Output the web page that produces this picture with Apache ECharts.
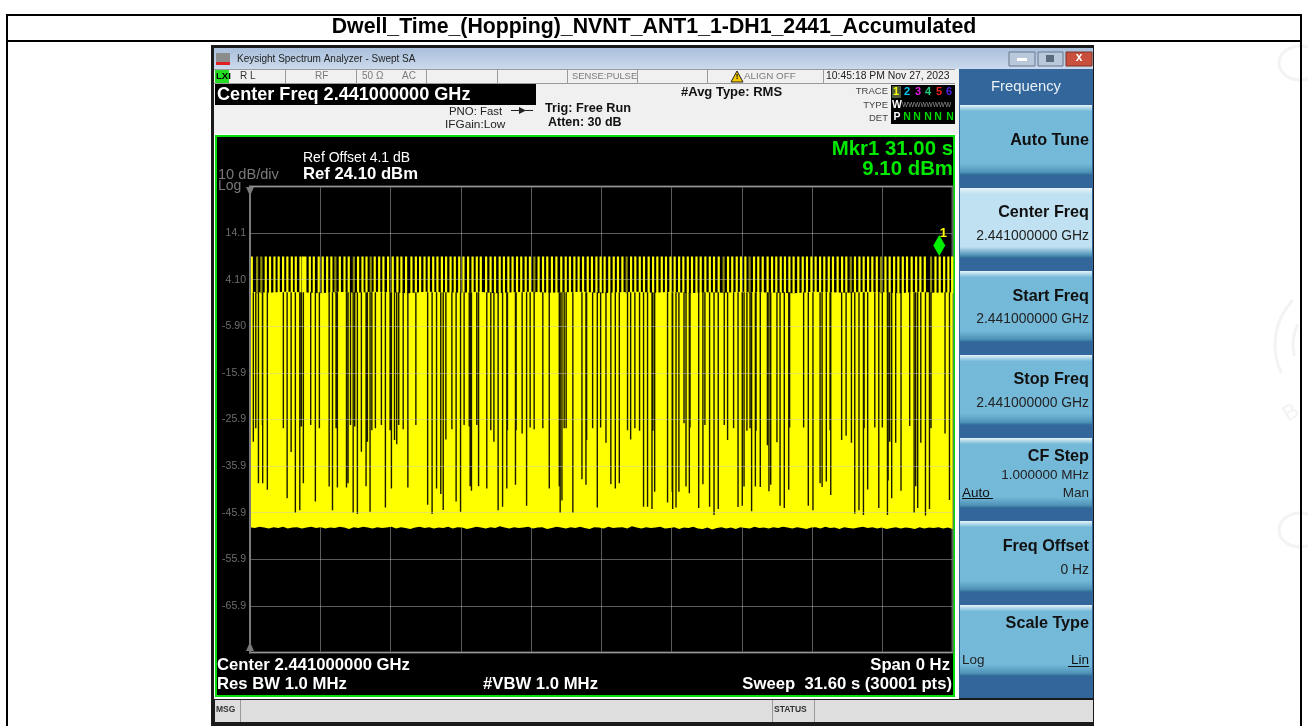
<!DOCTYPE html>
<html lang="en">
<head>
    <meta charset="utf-8">
    <title>Dwell_Time_(Hopping)_NVNT_ANT1_1-DH1_2441_Accumulated</title>
    <script src="https://cdn.jsdelivr.net/npm/echarts@6/dist/echarts.min.js"></script>
    <style>
        html, body { margin: 0; padding: 0; background: #fff; }
        #main { width: 1308px; height: 726px; }
    </style>
</head>
<body>
<div id="main"></div>
<script>
    // y axis (dBm) and x axis (s)
    var refLevel = 24.1;
    var bottomLevel = -75.9;
    var sweepTime = 31.6;
    var yTickLabels = ['14.1', '4.10', '-5.90', '-15.9', '-25.9', '-35.9', '-45.9', '-55.9', '-65.9'];

    var peakLevel = 9.1;
    var markerPoint = [31.0, 9.1];

    // bursts that reach the peak level, times in s
    var teethTimes = [0.08, 0.71, 0.90, 1.10, 1.29, 1.49, 1.68, 1.88, 2.06, 2.27, 2.39, 2.49, 2.69, 2.87, 3.09, 3.27, 3.47, 3.66, 4.04, 4.25, 4.44, 4.86, 5.06, 5.24, 5.61, 5.81, 6.00, 6.21, 6.42, 6.63, 6.81, 7.02, 7.26, 7.46, 7.65, 7.85, 8.04, 8.24, 8.43, 8.63, 8.82, 9.02, 9.21, 9.41, 9.60, 9.81, 10.01, 10.20, 10.38, 10.62, 10.82, 11.02, 11.23, 11.42, 11.62, 11.81, 12.01, 12.20, 12.40, 12.59, 12.98, 13.18, 13.37, 13.58, 13.78, 14.00, 14.20, 14.39, 14.59, 14.78, 14.98, 15.19, 15.38, 15.58, 15.77, 15.95, 16.16, 16.36, 16.55, 16.75, 17.14, 17.33, 17.53, 17.72, 17.93, 18.13, 18.32, 18.52, 18.71, 18.91, 19.10, 19.30, 19.49, 19.69, 19.88, 20.08, 20.27, 20.48, 20.68, 20.87, 21.08, 21.50, 21.69, 21.89, 22.08, 22.28, 22.67, 22.86, 23.06, 23.28, 23.48, 23.67, 23.87, 24.06, 24.26, 24.45, 24.66, 24.86, 25.05, 25.25, 25.44, 25.64, 25.83, 26.03, 26.22, 26.43, 26.63, 26.82, 27.21, 27.41, 27.60, 27.80, 27.99, 28.19, 28.58, 28.77, 28.97, 29.16, 29.36, 29.55, 29.76, 29.96, 30.15, 30.35, 30.83, 31.02, 31.22, 31.41, 31.58];
    // same bursts, the ones that look dim on the screen
    var dimTeethTimes = [0.32, 0.51, 3.84, 4.67, 5.43, 12.79, 16.94, 21.30, 22.47, 27.02, 28.38, 30.63];

    // top of the solid band and noise floor, evenly spread over the sweep
    var plateauLevels = [1.5, 1.3, 1.5, 1.4, 1.2, 1.5, 1.3, 1.5, 1.4, 1.2, 1.5, 1.4, 1.3, 1.5, 1.2, 1.4, 1.5, 1.3, 1.4, 1.5, 1.2, 1.4, 1.5, 1.3, 1.5, 1.2, 1.4, 1.3, 1.5, 1.4, 1.3, 1.2, 1.5, 1.4, 1.3, 1.5, 1.4, 1.2, 1.5, 1.3, 1.4];
    var floorLevels = [-49.0, -49.2, -48.9, -49.1, -49.3, -49.0, -49.2, -48.9, -49.3, -49.1, -49.0, -49.3, -49.1, -48.9, -49.2, -49.0, -49.3, -49.1, -49.2, -48.9, -49.1, -49.4, -49.0, -49.2, -48.9, -49.1, -49.3, -49.0, -49.2, -49.1, -48.9, -49.3, -49.0, -49.2, -49.4, -49.1, -48.9, -49.2, -49.0, -49.3, -49.1, -49.2, -48.9, -49.3, -49.0, -49.1, -49.4, -49.2, -48.9, -49.1, -49.3, -49.0, -49.2, -48.8, -49.1, -49.3, -49.0, -49.2, -49.1, -48.9, -49.3, -49.1, -49.0, -49.4, -49.2, -48.9, -49.1, -49.3, -49.0, -49.2, -48.9, -49.2, -49.4, -49.0, -49.1, -49.3, -48.9, -49.2, -49.1, -49.0, -49.3, -48.8, -49.1, -49.3, -49.0, -49.2, -49.1, -48.9, -49.3, -49.2, -49.0, -49.4, -49.1, -49.2, -48.9, -49.3, -49.4, -49.1, -49.5, -49.2, -49.0, -49.3, -49.1, -49.4, -49.0, -49.2, -49.3, -48.9, -49.2, -49.1, -49.3, -49.0, -49.2, -48.9, -49.1, -49.3, -49.0, -49.2, -49.4, -49.1, -49.0, -49.3, -48.9, -49.2, -49.1, -49.4, -49.0, -49.2, -49.3, -49.1, -48.9, -49.2, -49.0, -49.3, -49.1, -49.4, -49.2, -49.0, -49.3, -49.1, -49.2, -49.4, -49.0, -49.3, -49.1, -49.2, -49.0, -49.3, -49.1, -49.4];

    // gaps between hops: time (s) and how deep the gap reaches (dBm)
    var dipTimes = [0.15, 0.26, 0.38, 0.56, 0.57, 0.78, 1.50, 1.67, 1.85, 2.04, 2.24, 2.31, 2.40, 2.73, 2.94, 3.12, 3.56, 3.71, 3.87, 3.93, 4.34, 4.41, 4.52, 4.64, 4.71, 4.83, 5.01, 5.22, 5.28, 5.40, 5.48, 5.64, 5.91, 6.09, 6.30, 6.36, 6.50, 6.60, 6.69, 6.89, 7.10, 7.46, 7.99, 8.19, 8.39, 8.58, 8.69, 8.81, 9.08, 9.27, 9.47, 9.63, 9.86, 9.90, 9.96, 10.20, 10.28, 10.65, 10.83, 10.97, 11.16, 11.36, 11.55, 11.58, 11.94, 11.97, 12.24, 12.44, 12.60, 12.78,
        13.17, 13.46, 13.91, 13.95, 14.03, 14.13, 14.22, 14.52, 14.93, 15.11, 15.14, 15.41, 15.62, 15.77, 16.01, 16.23, 16.43, 16.61, 16.98, 17.12, 17.31, 17.52, 17.70, 17.88, 18.08, 18.12, 18.20, 18.78, 18.99, 19.01, 19.16, 19.29, 19.52, 19.61, 19.76, 19.79, 20.18, 20.37, 20.46, 20.67, 20.87, 21.06, 21.33, 21.48, 21.75, 21.95, 22.14, 22.22, 22.35, 22.49, 22.56, 22.73, 22.76, 22.95, 23.27, 23.34, 23.42, 23.70, 23.84, 24.03, 24.23, 24.27, 24.90, 25.11, 25.32, 25.64, 25.73, 25.92, 26.09, 26.12, 26.61, 26.81, 27.05, 27.20, 27.39, 27.59, 27.62, 27.78, 28.10, 28.28, 28.44, 28.67, 28.70, 28.77, 28.86, 29.04, 29.28, 29.67, 29.87, 29.94, 30.03, 30.17, 30.38, 30.56, 30.63, 31.26, 31.46];
    var dipLevels = [-30.7, -27.8, -39.6, -27.1, -39.6, -41.0, -27.8, -42.8, -32.9, -45.9, -45.4, -27.4, -39.6, -27.1, -43.5, -27.8, -40.3, -45.4, -27.8, -40.5, -40.5, -39.6, -27.1, -45.9, -27.4, -46.2, -32.8, -40.2, -30.7, -45.7, -28.2, -27.8, -27.1, -44.8, -28.2, -40.7, -30.3, -31.2, -27.1, -28.0, -40.5, -27.1, -44.2, -46.2, -40.7, -41.9, -45.3, -30.2, -28.0, -43.5, -45.7, -27.1, -27.4, -40.2, -41.2, -27.1, -40.2, -40.7, -28.2, -30.7, -45.4, -44.6, -40.7, -28.2, -39.9, -28.2, -28.9, -44.4, -27.6, -28.0,
        -27.8, -40.7, -40.2, -45.9, -43.3, -27.8, -27.8, -45.9, -38.7, -39.9, -30.3, -27.8, -44.8, -27.6, -30.9, -39.8, -40.7, -39.6, -28.2, -30.2, -27.8, -28.3, -44.6, -44.6, -45.1, -28.3, -41.4, -43.7, -41.4, -45.1, -44.8, -41.4, -26.7, -40.3, -41.7, -27.6, -44.9, -39.8, -27.1, -44.6, -46.4, -45.1, -27.1, -30.3, -27.8, -44.7, -44.4, -40.3, -28.3, -27.8, -45.6, -40.3, -28.3, -40.4, -31.4, -41.3, -39.9, -30.8, -44.4, -44.9, -41.0, -27.6, -27.6, -44.4, -45.4, -39.6, -40.4, -39.2, -28.2, -42.1, -30.3, -29.4, -30.9, -46.1, -45.4, -46.4, -27.8, -40.9, -27.6, -44.9, -27.6, -46.4, -39.0, -30.7, -42.8, -30.9, -41.2, -27.3, -45.9, -40.2, -44.9, -30.9, -46.5, -45.1, -27.8, -28.9, -43.2];

    var FONT = '"Liberation Sans", Arial, sans-serif';
    var BLUE = '#33669a';
    var GRAY = '#7a7a7a';
    var GREEN = '#00e000';

    // vertical strokes, split by empty points
    function strokes(times, from, to) {
        var out = [];
        for (var i = 0; i < times.length; i++) {
            var end = Array.isArray(to) ? to[i] : to;
            out.push([times[i], from], [times[i], end], [times[i], null]);
        }
        return out;
    }

    function rect(x, y, w, h, fill, extra) {
        var el = {type: 'rect', shape: {x: x, y: y, width: w, height: h}, style: {fill: fill}, z: -5, silent: true};
        if (extra) { for (var k in extra) { el[k] = extra[k]; } }
        return el;
    }

    function label(x, y, str, size, color, opts) {
        opts = opts || {};
        return {
            type: 'text', x: x, y: y + 3, z: 20, silent: true,
            style: {
                text: str, fill: color, align: opts.align || 'left', verticalAlign: 'middle',
                font: (opts.weight || 'normal') + ' ' + size + 'px ' + FONT
            }
        };
    }

    function softKey(y, h, body) {
        return rect(960, y, 132, h, {
            type: 'linear', x: 0, y: 0, x2: 0, y2: 1,
            colorStops: [
                {offset: 0, color: '#e6f3fa'}, {offset: 0.09, color: body}, {offset: 0.84, color: body},
                {offset: 0.96, color: '#4f93b8'}, {offset: 1, color: '#2d6a96'}
            ]
        });
    }

    var els = [];
    // page frame and watermark
    els.push(rect(6, 14, 1296, 2, '#000'), rect(6, 40, 1296, 2, '#000'), rect(6, 14, 2, 712, '#000'), rect(1300, 14, 2, 712, '#000'));
    els.push(label(654, 24, 'Dwell_Time_(Hopping)_NVNT_ANT1_1-DH1_2441_Accumulated', 21.3, '#000', {align: 'center', weight: 'bold'}));
    var wm = {fill: 'none', stroke: '#f3f3f6', lineWidth: 3};
    els.push({type: 'ellipse', shape: {cx: 1300, cy: 63, rx: 21, ry: 17}, style: wm, z: -6, silent: true});
    els.push({type: 'ellipse', shape: {cx: 1300, cy: 530, rx: 21, ry: 17}, style: wm, z: -6, silent: true});
    els.push({type: 'arc', shape: {cx: 1340, cy: 345, r: 65, startAngle: 2.7, endAngle: 3.9}, style: wm, z: -6, silent: true});
    els.push({type: 'arc', shape: {cx: 1340, cy: 345, r: 47, startAngle: 2.9, endAngle: 3.6}, style: wm, z: -6, silent: true});
    els.push({type: 'text', x: 1291, y: 413, rotation: 0.55, z: -6, silent: true, style: {text: 'B', fill: '#f3f3f6', align: 'center', verticalAlign: 'middle', font: '22px ' + FONT}});

    // analyzer window
    els.push(rect(211, 45, 883, 681, '#1a1a1a'));
    els.push(rect(214, 48, 879, 21, {type: 'linear', x: 0, y: 0, x2: 0, y2: 1, colorStops: [{offset: 0, color: '#a9bfdb'}, {offset: 1, color: '#cbdaec'}]}));
    els.push(rect(216, 53, 14, 12, '#8c8c8c'), rect(216, 62, 14, 3, '#e02020'));
    els.push(label(237, 56, 'Keysight Spectrum Analyzer - Swept SA', 10, '#222'));
    els.push(rect(1009, 52, 26, 14, '#b9c8da', {style: {fill: '#b9c8da', stroke: '#66788e', lineWidth: 1}}));
    els.push(rect(1038, 52, 25, 14, '#b9c8da', {style: {fill: '#b9c8da', stroke: '#66788e', lineWidth: 1}}));
    els.push(rect(1066, 52, 26, 14, '#c9503c', {style: {fill: '#c9503c', stroke: '#7a3328', lineWidth: 1}}));
    els.push(rect(1017, 58, 10, 3, '#fff'), rect(1046, 55, 8, 7, '#5a6b80'));
    els.push(label(1079, 55, 'x', 12, '#fff', {align: 'center', weight: 'bold'}));

    // status row
    els.push(rect(214, 69, 745, 65, '#f0f0f0'));
    els.push(rect(214, 69, 741, 1, '#9a9a9a'), rect(214, 83, 741, 1, '#9a9a9a'));
    [285, 356, 426, 497, 567, 637, 707, 823].forEach(function (x) { els.push(rect(x, 70, 1, 13, '#9a9a9a')); });
    els.push(rect(215, 70, 14, 13, '#22dd22'));
    els.push(label(216, 73, 'LXI', 9.5, '#000', {weight: 'bold'}));
    els.push(label(240, 73, 'R L', 10, '#333'));
    els.push(label(315, 73, 'RF', 10, GRAY));
    els.push(label(362, 73, '50 Ω', 10, GRAY));
    els.push(label(402, 73, 'AC', 10, GRAY));
    els.push(label(572, 73, 'SENSE:PULSE', 9.4, GRAY));
    els.push({type: 'polygon', shape: {points: [[737, 71], [743, 82], [731, 82]]}, style: {fill: '#f5c800', stroke: '#222', lineWidth: 1}, z: -4, silent: true});
    els.push(label(737, 74, '!', 8, '#000', {align: 'center', weight: 'bold'}));
    els.push(label(744, 73, 'ALIGN OFF', 9.8, GRAY));
    els.push(label(826, 73, '10:45:18 PM Nov 27, 2023', 10.4, '#222'));

    // settings panel
    els.push(rect(215, 84, 321, 21, '#000'));
    els.push(label(217, 92, 'Center Freq 2.441000000 GHz', 18.1, '#fff', {weight: 'bold'}));
    els.push(label(449, 109, 'PNO: Fast', 11.4, '#222'));
    els.push(label(445, 122, 'IFGain:Low', 11.8, '#222'));
    els.push(rect(511, 110, 22, 1, '#222'));
    els.push({type: 'polygon', shape: {points: [[519, 107], [526, 110.5], [519, 114]]}, style: {fill: '#222'}, z: -4, silent: true});
    els.push(label(545, 105, 'Trig: Free Run', 12.7, '#111', {weight: 'bold'}));
    els.push(label(548, 120, 'Atten: 30 dB', 12.5, '#111', {weight: 'bold'}));
    els.push(label(681, 89, '#Avg Type: RMS', 13, '#111', {weight: 'bold'}));
    els.push(label(888, 88, 'TRACE', 9.5, '#444', {align: 'right'}));
    els.push(label(888, 102, 'TYPE', 9.5, '#444', {align: 'right'}));
    els.push(label(888, 115, 'DET', 9.5, '#444', {align: 'right'}));
    els.push(rect(891, 85, 64, 39, '#000'));
    els.push(rect(892, 86, 9, 12, '#4a5a3a'));
    var traceNums = ['1', '2', '3', '4', '5', '6'];
    var traceCols = ['#ffff00', '#00c8e8', '#e020e0', '#20d080', '#f02020', '#5020e0'];
    var traceX = [896, 907, 918, 928, 939, 949];
    traceNums.forEach(function (n, i) {
        els.push(label(traceX[i], 89, n, 11, traceCols[i], {align: 'center', weight: 'bold'}));
    });
    els.push(label(897, 102, 'W', 10.5, '#fff', {align: 'center', weight: 'bold'}));
    els.push(label(902, 102, 'WWWWWWWW', 6.5, '#999'));
    els.push(label(897, 114, 'P', 10.5, '#fff', {align: 'center', weight: 'bold'}));
    traceX.slice(1).forEach(function (x, i) { els.push(label([907, 917, 928, 938, 950][i], 114, 'N', 10.5, '#00d800', {align: 'center', weight: 'bold'})); });

    // plot frame
    els.push(rect(214, 134, 745, 565, '#fff'));
    els.push(rect(215, 135, 740, 562, GREEN));
    els.push(rect(217, 137, 736, 558, '#000'));
    els.push(label(303, 155, 'Ref Offset 4.1 dB', 14, '#fff'));
    els.push(label(303, 171, 'Ref 24.10 dBm', 16.7, '#fff', {weight: 'bold'}));
    els.push(label(218, 172, '10 dB/div', 14.6, GRAY));
    els.push(label(218, 183, 'Log', 14, GRAY));
    els.push(label(953, 146, 'Mkr1 31.00 s', 20.4, '#00e800', {align: 'right', weight: 'bold'}));
    els.push(label(953, 166, '9.10 dBm', 20.4, '#00e800', {align: 'right', weight: 'bold'}));
    els.push(label(217, 662, 'Center 2.441000000 GHz', 16.7, '#fff', {weight: 'bold'}));
    els.push(label(217, 681, 'Res BW 1.0 MHz', 16.7, '#fff', {weight: 'bold'}));
    els.push(label(483, 681, '#VBW 1.0 MHz', 16.7, '#fff', {weight: 'bold'}));
    els.push(label(950, 662, 'Span 0 Hz', 16.7, '#fff', {align: 'right', weight: 'bold'}));
    els.push(label(952, 681, 'Sweep  31.60 s (30001 pts)', 16.7, '#fff', {align: 'right', weight: 'bold'}));
    els.push({type: 'polygon', shape: {points: [[246, 187], [254, 187], [250, 196]]}, style: {fill: GRAY}, z: 20, silent: true});
    els.push({type: 'polygon', shape: {points: [[246, 651], [254, 651], [250, 642]]}, style: {fill: GRAY}, z: 20, silent: true});

    // soft keys
    els.push(rect(959, 69, 134, 629, BLUE));
    els.push(label(1026, 84, 'Frequency', 14.8, '#e8f0f6', {align: 'center'}));
    els.push(softKey(105, 70, '#74b9d8'), softKey(188, 70, '#bfe1f1'), softKey(271, 71, '#74b9d8'), softKey(355, 70, '#74b9d8'),
        softKey(438, 70, '#74b9d8'), softKey(521, 71, '#74b9d8'), softKey(605, 71, '#74b9d8'));
    var keyNames = ['Auto Tune', 'Center Freq', 'Start Freq', 'Stop Freq', 'CF Step', 'Freq Offset', 'Scale Type'];
    var keyNameY = [138, 210, 294, 377, 454, 544, 621];
    keyNames.forEach(function (n, i) { els.push(label(1089, keyNameY[i], n, 16.2, '#111', {align: 'right', weight: 'bold'})); });
    els.push(label(1089, 233, '2.441000000 GHz', 13.9, '#222', {align: 'right'}));
    els.push(label(1089, 316, '2.441000000 GHz', 13.9, '#222', {align: 'right'}));
    els.push(label(1089, 400, '2.441000000 GHz', 13.9, '#222', {align: 'right'}));
    els.push(label(1089, 472, '1.000000 MHz', 13.5, '#222', {align: 'right'}));
    els.push(label(962, 490, 'Auto', 13.5, '#111'));
    els.push(rect(962, 498, 31, 1, '#111', {z: 20}));
    els.push(label(1089, 490, 'Man', 13.5, '#222', {align: 'right'}));
    els.push(label(1089, 567, '0 Hz', 13.9, '#222', {align: 'right'}));
    els.push(label(962, 657, 'Log', 13.5, '#222'));
    els.push(label(1089, 657, 'Lin', 13.5, '#111', {align: 'right'}));
    els.push(rect(1068, 666, 21, 1, '#111', {z: 20}));

    // bottom bar
    els.push(rect(215, 700, 878, 22, '#dedede'));
    els.push(rect(240, 700, 1, 22, '#999'), rect(772, 700, 1, 22, '#999'), rect(814, 700, 1, 22, '#999'));
    els.push(label(216, 707, 'MSG', 8.5, '#333', {weight: 'bold'}));
    els.push(label(774, 707, 'STATUS', 8.5, '#333', {weight: 'bold'}));

    var myChart = echarts.init(document.getElementById('main'), null, {renderer: 'canvas'});

    var option = {
        animation: false,
        backgroundColor: '#fff',
        graphic: {elements: els},
        grid: {left: 250, top: 186.5, width: 702.6, height: 466, show: true, borderColor: '#6e6e6e', borderWidth: 2, backgroundColor: 'transparent'},
        xAxis: {
            type: 'value', min: 0, max: sweepTime, interval: sweepTime / 10,
            axisLine: {show: false}, axisTick: {show: false}, axisLabel: {show: false},
            splitLine: {show: true, lineStyle: {color: '#5a5a5a', width: 1}}
        },
        yAxis: {
            type: 'value', min: bottomLevel, max: refLevel, interval: 10, z: 5,
            axisLine: {show: true, onZero: false, lineStyle: {color: '#7a7a7a', width: 2}},
            axisTick: {show: false},
            axisLabel: {
                color: '#6e6e6e', fontSize: 10.5, fontFamily: FONT, margin: 4,
                showMinLabel: false, showMaxLabel: false,
                formatter: function (v) {
                    var i = Math.round((refLevel - v) / 10) - 1;
                    return yTickLabels[i] || '';
                }
            },
            splitLine: {show: true, lineStyle: {color: 'rgba(200,200,200,0.45)', width: 1}}
        },
        series: [{
            // solid yellow band between the noise floor and the plateau
            type: 'custom',
            coordinateSystem: 'cartesian2d',
            z: 2,
            silent: true,
            data: [[0, peakLevel]],
            renderItem: function (params, api) {
                var pts = [];
                var i;
                for (i = 0; i < plateauLevels.length; i++) {
                    pts.push(api.coord([sweepTime * i / (plateauLevels.length - 1), plateauLevels[i]]));
                }
                for (i = floorLevels.length - 1; i >= 0; i--) {
                    pts.push(api.coord([sweepTime * i / (floorLevels.length - 1), floorLevels[i]]));
                }
                return {type: 'polygon', shape: {points: pts}, style: {fill: '#ffff00'}};
            }
        }, {
            name: 'bursts',
            type: 'line', z: 3, silent: true, showSymbol: false,
            lineStyle: {color: '#ffff00', width: 2.2, cap: 'butt'},
            data: strokes(teethTimes, 1.2, peakLevel)
        }, {
            name: 'dim bursts',
            type: 'line', z: 3, silent: true, showSymbol: false,
            lineStyle: {color: '#8f8f00', width: 2.2, cap: 'butt'},
            data: strokes(dimTeethTimes, 1.2, peakLevel)
        }, {
            name: 'gaps',
            type: 'line', z: 4, silent: true, showSymbol: false,
            lineStyle: {color: '#1a1a00', width: 1.4, cap: 'butt'},
            data: strokes(dipTimes, 1.4, dipLevels)
        }, {
            name: 'marker',
            type: 'scatter', z: 6, silent: true,
            symbol: 'diamond', symbolSize: [12, 21], symbolOffset: [0, -11],
            itemStyle: {color: '#00f000', opacity: 1},
            label: {show: true, formatter: '1', color: '#ffff00', fontSize: 13, fontWeight: 'bold', fontFamily: FONT, position: 'top', offset: [4, 10]},
            data: [markerPoint]
        }]
    };

    myChart.setOption(option);
</script>
</body>
</html>
